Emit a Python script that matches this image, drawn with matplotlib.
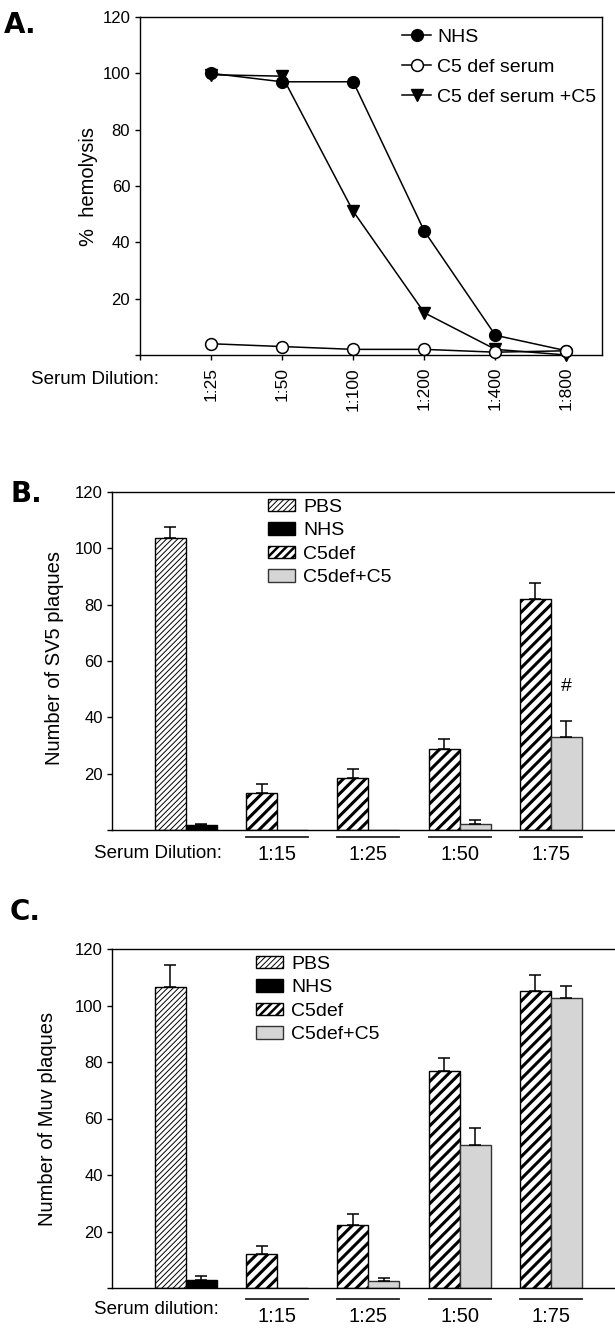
import matplotlib
matplotlib.use('Agg')
import matplotlib.pyplot as plt
import matplotlib.transforms as mtransforms
from matplotlib.patches import Patch
import numpy as np

plt.rcParams['font.family'] = ['Liberation Sans', 'DejaVu Sans']

# ---------------- Data ----------------
# Panel A: % hemolysis
dilutions_a = ["1:25", "1:50", "1:100", "1:200", "1:400", "1:800"]
nhs_a = [100, 97, 97, 44, 7, 1.5]
c5def_a = [4, 3, 2, 2, 1, 1.5]
c5def_c5_a = [99.5, 99, 51, 15, 2, 0]

# Panels B and C: dilution groups
dilutions_bc = ["1:15", "1:25", "1:50", "1:75"]

# Panel B: SV5 plaques
sv5_pbs = [103.8]
sv5_pbs_err = [3.8]
sv5_nhs = [1.8]
sv5_nhs_err = [0.4]
sv5_c5def = [13.2, 18.4, 28.7, 82.0]
sv5_c5def_err = [3.1, 3.1, 3.6, 5.8]
sv5_c5def_c5 = [0, 0, 2.1, 32.9]
sv5_c5def_c5_err = [0, 0, 1.4, 5.9]

# Panel C: Muv plaques
muv_pbs = [106.4]
muv_pbs_err = [7.9]
muv_nhs = [3.0]
muv_nhs_err = [1.2]
muv_c5def = [12.2, 22.2, 76.8, 105.2]
muv_c5def_err = [2.8, 4.1, 4.7, 5.6]
muv_c5def_c5 = [0, 2.6, 50.5, 102.5]
muv_c5def_c5_err = [0, 0.9, 6.3, 4.5]

legend_labels = ["PBS", "NHS", "C5def", "C5def+C5"]

# ---------------- Figure ----------------
W, H = 615, 1329
fig = plt.figure(figsize=(W / 100, H / 100), dpi=100)


def ax_rect(left, top, right, bottom):
    return [left / W, 1 - bottom / H, (right - left) / W, (bottom - top) / H]


TICK_FS = 12
LABEL_FS = 14.5
LEG_FS = 14
PBS_HATCH, PBS_HLW = '//////', 0.7
C5_HATCH, C5_HLW = '///', 2.2
GRAY = '#d5d5d5'


def set_hatch_lw(patches, lw):
    for p in patches:
        if hasattr(p, 'set_hatch_linewidth'):
            p.set_hatch_linewidth(lw)
        if hasattr(p, '_hatch_linewidth'):
            p._hatch_linewidth = lw


def panel_letter(x, y, s):
    fig.text(x / W, 1 - y / H, s, fontsize=20, fontweight='bold', ha='left', va='top',
             family='DejaVu Sans')


# ---------------- Panel A ----------------
axA = fig.add_axes(ax_rect(140, 17, 602, 355))
xa = np.arange(len(dilutions_a))
axA.plot(xa, nhs_a, '-o', color='black', mfc='black', mec='black', ms=8.5, lw=1.1,
         label="NHS", clip_on=False, zorder=3)
axA.plot(xa, c5def_a, '-o', color='black', mfc='white', mec='black', ms=8.5, mew=1.1,
         lw=1.1, label="C5 def serum", clip_on=False, zorder=4)
axA.plot(xa, c5def_c5_a, '-v', color='black', mfc='black', mec='black', ms=9, lw=1.1,
         label="C5 def serum +C5", clip_on=False, zorder=3)
axA.set_xlim(-1.0, 5.5)
axA.set_ylim(0, 120)
axA.set_yticks([0, 20, 40, 60, 80, 100, 120])
axA.set_yticklabels(["", "20", "40", "60", "80", "100", "120"])
axA.set_xticks(list(xa) + [-1])
axA.set_xticklabels(dilutions_a + [""], rotation=90, fontsize=12.5)
axA.tick_params(axis='y', direction='out', length=3.6, width=1, pad=3.5, labelsize=TICK_FS)
axA.tick_params(axis='x', direction='out', length=3.6, width=1, pad=5)
for sp in axA.spines.values():
    sp.set_linewidth(1.0)
axA.set_ylabel("%  hemolysis", fontsize=LABEL_FS, va='center')
axA.yaxis.set_label_coords((88 - 140) / 462, (355 - 187) / 338)
axA.legend(loc='upper left', bbox_to_anchor=((402 - 140) / 462, 1 - 11 / 338),
           frameon=False, fontsize=LEG_FS, handlelength=1.5, handletextpad=0.3,
           labelspacing=0.64, borderpad=0, borderaxespad=0, numpoints=1)
fig.text(31 / W, 1 - 380 / H, "Serum Dilution:", fontsize=13.5, ha='left', va='center')
panel_letter(4, 11, "A.")

# ---------------- Bar panels ----------------
W_BAR = 0.34


def bar_panel(ax, pbs, pbs_err, nhs, nhs_err, c5def, c5def_err, c5def_c5, c5def_c5_err,
              ylabel, ylabel_xy, leg_anchor, underline_y, label_y):
    xg = np.arange(1, len(dilutions_bc) + 1)
    x0 = np.array([0])
    with plt.rc_context({'hatch.linewidth': PBS_HLW}):
        b_pbs = ax.bar(x0 - W_BAR / 2, pbs, W_BAR, facecolor='white', edgecolor='black',
                       hatch=PBS_HATCH, lw=1, zorder=2)
    set_hatch_lw(b_pbs.patches, PBS_HLW)
    h_pbs = Patch(facecolor='white', edgecolor='black', hatch=PBS_HATCH, lw=1)
    ax.bar(x0 + W_BAR / 2, nhs, W_BAR, facecolor='black', edgecolor='black', lw=1, zorder=2)
    h_nhs = Patch(facecolor='black', edgecolor='black', lw=1)
    with plt.rc_context({'hatch.linewidth': C5_HLW}):
        b_c5 = ax.bar(xg - W_BAR / 2, c5def, W_BAR, facecolor='white', edgecolor='black',
                      hatch=C5_HATCH, lw=1, zorder=2)
    set_hatch_lw(b_c5.patches, C5_HLW)
    h_c5 = Patch(facecolor='white', edgecolor='black', hatch='////', lw=1)
    ax.bar(xg + W_BAR / 2, c5def_c5, W_BAR, facecolor=GRAY, edgecolor='#333333', lw=1,
           zorder=2)
    h_c5c5 = Patch(facecolor=GRAY, edgecolor='#333333', lw=1)

    xs = np.concatenate([x0 - W_BAR / 2, x0 + W_BAR / 2, xg - W_BAR / 2, xg + W_BAR / 2])
    ys = np.concatenate([pbs, nhs, c5def, c5def_c5])
    es = np.concatenate([pbs_err, nhs_err, c5def_err, c5def_c5_err])
    m = es > 0
    ax.errorbar(xs[m], ys[m], yerr=[np.zeros(m.sum()), es[m]], fmt='none', ecolor='black',
                elinewidth=1.1, capsize=4.5, capthick=1.1, zorder=3)

    ax.set_xlim(-0.811, 4.704)
    ax.set_ylim(0, 120)
    ax.set_yticks([0, 20, 40, 60, 80, 100, 120])
    ax.set_yticklabels(["", "20", "40", "60", "80", "100", "120"])
    ax.set_xticks([])
    ax.tick_params(axis='y', direction='out', length=3.6, width=1, pad=3, labelsize=TICK_FS)
    ax.spines['right'].set_visible(False)
    for sp in ax.spines.values():
        sp.set_linewidth(1.0)
    ax.set_ylabel(ylabel, fontsize=LABEL_FS, va='center')
    ax.yaxis.set_label_coords(*ylabel_xy)

    trans = mtransforms.blended_transform_factory(ax.transData, ax.transAxes)
    for c, lab in zip(xg, dilutions_bc):
        ax.plot([c - W_BAR, c + W_BAR], [underline_y, underline_y], color='#222222', lw=1.3,
                transform=trans, clip_on=False)
        ax.text(c, label_y, lab, transform=trans, ha='center', va='center', fontsize=14.5)

    leg = ax.legend(handles=[h_pbs, h_nhs, h_c5, h_c5c5], labels=legend_labels,
                    loc='upper left', bbox_to_anchor=leg_anchor, frameon=False,
                    fontsize=LEG_FS, handlelength=1.4, handleheight=0.6, handletextpad=0.4,
                    labelspacing=0.33, borderpad=0, borderaxespad=0)
    lp = leg.get_patches()
    set_hatch_lw([lp[0]], PBS_HLW)
    set_hatch_lw([lp[2]], 1.8)


# Panel B
axB = fig.add_axes(ax_rect(112, 492, 615, 830))
bar_panel(axB, sv5_pbs, sv5_pbs_err, sv5_nhs, sv5_nhs_err, sv5_c5def, sv5_c5def_err,
          sv5_c5def_c5, sv5_c5def_c5_err, "Number of SV5 plaques",
          ((55 - 112) / 503, (830 - 658) / 338), ((268 - 112) / 503, 1 - 7 / 338),
          -7 / 338, -25 / 338)
axB.text(4 + W_BAR / 2, 50.8, "#", ha='center', va='center', fontsize=14)
fig.text(94 / W, 1 - 853 / H, "Serum Dilution:", fontsize=13.5, ha='left', va='center')
panel_letter(10, 480, "B.")

# Panel C
axC = fig.add_axes(ax_rect(112, 949, 615, 1288))
bar_panel(axC, muv_pbs, muv_pbs_err, muv_nhs, muv_nhs_err, muv_c5def, muv_c5def_err,
          muv_c5def_c5, muv_c5def_c5_err, "Number of Muv plaques",
          ((47 - 112) / 503, (1288 - 1119) / 339), ((256 - 112) / 503, 1 - 7 / 339),
          -11 / 339, -29 / 339)
fig.text(94 / W, 1 - 1310 / H, "Serum dilution:", fontsize=13.5, ha='left', va='center')
panel_letter(10, 898, "C.")

fig.savefig("out.png", dpi=100)
